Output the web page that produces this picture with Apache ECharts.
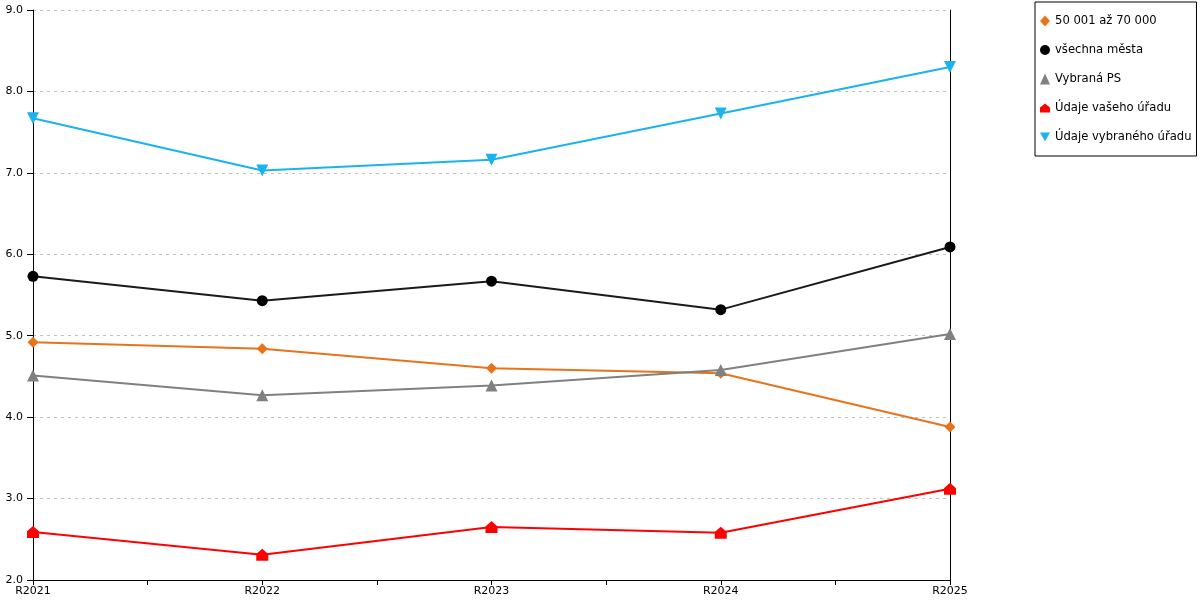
<!DOCTYPE html>
<html>
<head>
<meta charset="utf-8">
<script src="https://cdn.jsdelivr.net/npm/echarts@6/dist/echarts.min.js"></script>
<style>html,body{margin:0;padding:0;background:#fff}#c{width:1200px;height:600px}</style>
</head>
<body>
<div id="c"></div>
<script>
var categories = ['R2021', 'R2022', 'R2023', 'R2024', 'R2025'];
var yTicks = [2.0, 3.0, 4.0, 5.0, 6.0, 7.0, 8.0, 9.0];
var seriesNames = ['50 001 až 70 000', 'všechna města', 'Vybraná PS', 'Údaje vašeho úřadu', 'Údaje vybraného úřadu'];
var s5070 = [4.92, 4.84, 4.60, 4.54, 3.88];
var sAll = [5.73, 5.43, 5.67, 5.32, 6.09];
var sPS = [4.51, 4.27, 4.39, 4.58, 5.02];
var sVas = [2.59, 2.31, 2.65, 2.58, 3.12];
var sVyb = [7.67, 7.03, 7.16, 7.73, 8.30];

var house = 'path://M0,4 L5,0 L10,4 L10,9 L0,9 Z';
var downTri = 'path://M0,0 L10,0 L5,9 Z';

function pairs(arr) { return arr.map(function (v, i) { return [i, v]; }); }

var defs = [
  { name: seriesNames[0], data: s5070, color: '#E8731A', symbol: 'diamond', size: 11 },
  { name: seriesNames[1], data: sAll, color: '#000000', line: '#1a1a1a', symbol: 'circle', size: 11 },
  { name: seriesNames[2], data: sPS, color: '#808080', symbol: 'triangle', size: 12 },
  { name: seriesNames[3], data: sVas, color: '#FF0000', symbol: house, size: 12 },
  { name: seriesNames[4], data: sVyb, color: '#1AB2EF', symbol: downTri, size: 12 }
];

var series = defs.map(function (d) {
  return {
    name: d.name,
    type: 'line',
    yAxisIndex: 0,
    data: pairs(d.data),
    symbol: d.symbol,
    symbolSize: d.size,
    showAllSymbol: true,
    itemStyle: { color: d.color },
    lineStyle: { color: d.line || d.color, width: 2 },
    emphasis: { disabled: true },
    animation: false
  };
});

var chart = echarts.init(document.getElementById('c'), null, { renderer: 'canvas' });
chart.setOption({
  animation: false,
  textStyle: { fontFamily: 'DejaVu Sans' },
  grid: { left: 33, right: 250, top: 10, bottom: 20, containLabel: false },
  legend: {
    orient: 'vertical',
    left: 1035,
    top: 2,
    padding: [13, 5, 13, 5],
    borderColor: '#000',
    borderWidth: 1,
    itemWidth: 10,
    itemHeight: 11,
    itemGap: 17,
    textStyle: { fontFamily: 'DejaVu Sans', fontSize: 11.6, color: '#000' },
    data: defs.map(function (d) {
      return { name: d.name, icon: d.symbol };
    })
  },
  xAxis: {
    type: 'value',
    min: 0,
    max: categories.length - 1,
    interval: 0.5,
    axisLine: { show: true, onZero: false, lineStyle: { color: '#000', width: 1 } },
    axisTick: { show: true, length: 5, lineStyle: { color: '#000' } },
    splitLine: { show: false },
    axisLabel: {
      color: '#000',
      fontSize: 11,
      margin: 6,
      fontFamily: 'DejaVu Sans',
      showMinLabel: true,
      showMaxLabel: true,
      formatter: function (v) {
        return Number.isInteger(v) ? categories[v] : '';
      }
    }
  },
  yAxis: [{
    type: 'value',
    min: yTicks[0],
    max: yTicks[yTicks.length - 1],
    interval: 1,
    axisLine: { show: true, lineStyle: { color: '#000', width: 1 } },
    axisTick: { show: true, inside: false, length: 6, lineStyle: { color: '#000', width: 1 } },
    splitLine: { show: true, lineStyle: { color: '#c0c0c0', type: [3, 4], width: 1 } },
    axisLabel: {
      color: '#000',
      fontSize: 11,
      margin: 10,
      fontFamily: 'DejaVu Sans',
      formatter: function (v) { return v.toFixed(1); }
    }
  }, {
    type: 'value',
    position: 'right',
    min: yTicks[0],
    max: yTicks[yTicks.length - 1],
    interval: 1,
    axisLine: { show: true, lineStyle: { color: '#000', width: 1 } },
    axisTick: { show: false },
    axisLabel: { show: false },
    splitLine: { show: false }
  }],
  series: series
});
</script>
</body>
</html>
